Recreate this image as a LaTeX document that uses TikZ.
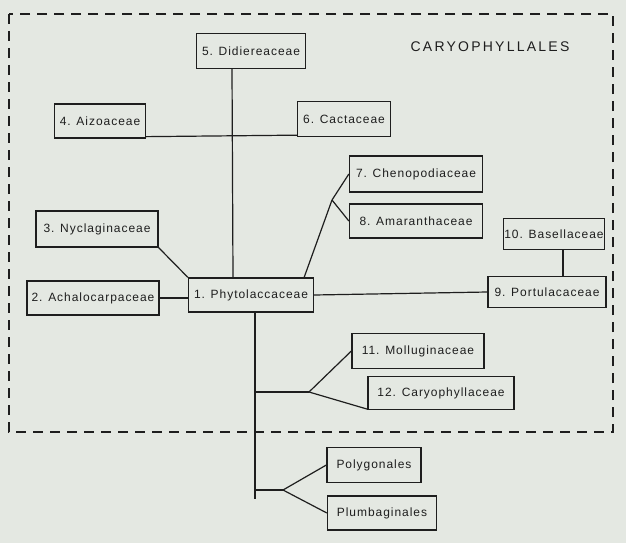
\documentclass[tikz,border=0pt]{standalone}
\usepackage{fontspec}
\setmainfont{Liberation Sans}
\newfontfamily\boxfont[LetterSpace=8]{Liberation Sans}
\newfontfamily\titlefont[LetterSpace=16]{Liberation Sans}
\usepackage{xcolor}
\usepackage{tikz}
\usetikzlibrary{calc}
\definecolor{paper}{RGB}{228,232,226}
\definecolor{ink}{RGB}{30,30,30}

\begin{document}
\begin{tikzpicture}[
    x=1pt, y=-1pt,
    fam/.style={draw=ink, line width=1.3pt, text=ink, inner sep=0pt, minimum height=34pt, font=\boxfont\fontsize{12}{14}\selectfont},
    link/.style={draw=ink, line width=1.2pt},
    orderbox/.style={draw=ink, line width=1.2pt, dash pattern=on 10pt off 7pt}
]
% Paper
\fill[paper] (0,0) rectangle (626,543);
\useasboundingbox (0,0) rectangle (626,543);

% Order boundary
\draw[orderbox] (9,14) rectangle (613,432);
\node[font=\titlefont\fontsize{14}{16}\selectfont, text=ink] (order) at (490,47) {CARYOPHYLLALES};

% Families
\node[fam, minimum width=125pt] (phy) at (251,295) {1. Phytolaccaceae};
\node[fam, minimum width=132pt] (ach) at (93,298) {2. Achalocarpaceae};
\node[fam, minimum width=122pt, minimum height=36pt] (nyc) at (97,229) {3. Nyclaginaceae};
\node[fam, minimum width=91pt] (aiz) at (100,121) {4. Aizoaceae};
\node[fam, minimum width=109pt, minimum height=35pt] (did) at (251,51) {5. Didiereaceae};
\node[fam, minimum width=93pt, minimum height=35pt] (cac) at (344,119) {6. Cactaceae};
\node[fam, minimum width=133pt, minimum height=36pt] (che) at (416,174) {7. Chenopodiaceae};
\node[fam, minimum width=133pt] (ama) at (416,221) {8. Amaranthaceae};
\node[fam, minimum width=118pt, minimum height=31pt] (por) at (547,292) {9. Portulacaceae};
\node[fam, minimum width=101pt, minimum height=31pt] (bas) at (554,234) {10. Basellaceae};
\node[fam, minimum width=132pt, minimum height=35pt] (mol) at (418,351) {11. Molluginaceae};
\node[fam, minimum width=146pt, minimum height=33pt] (car) at (441,393) {12. Caryophyllaceae};

% Related orders
\node[fam, minimum width=94pt, minimum height=35pt] (pol) at (374,465) {Polygonales};
\node[fam, minimum width=109pt] (plu) at (382,513) {Plumbaginales};

% Branch points
\coordinate (cb) at (332,200);
\coordinate (b1) at (255,392);
\coordinate (m1) at (309,392);
\coordinate (b2) at (255,490);
\coordinate (m2) at (283,490);
\coordinate (tend) at (255,499);

% Connecting lines
\draw[link] ($(did.south)+(-19,0)$) -- ($(phy.north)+(-18,0)$);
\draw[link] ($(aiz.south east)+(0,-2)$) -- ($(cac.south west)+(0,-2)$);
\draw[link] (ach.east) -- (phy.west |- ach.east);
\draw[link] (nyc.south east) -- (phy.north west);
\draw[link] ($(phy.north east)+(-10,0)$) -- (cb);
\draw[link] (cb) -- (che.west);
\draw[link] (cb) -- (ama.west);
\draw[link] (phy.east) -- (por.west);
\draw[link] ($(bas.south)+(9,0)$) -- ($(por.north)+(16,0)$);
\draw[link] (phy.south -| tend) -- (tend);
\draw[link] (b1) -- (m1);
\draw[link] (m1) -- (mol.west);
\draw[link] (m1) -- ($(car.south west)+(0,-1)$);
\draw[link] (b2) -- (m2);
\draw[link] (m2) -- (pol.west);
\draw[link] (m2) -- (plu.west);
\end{tikzpicture}
\end{document}
